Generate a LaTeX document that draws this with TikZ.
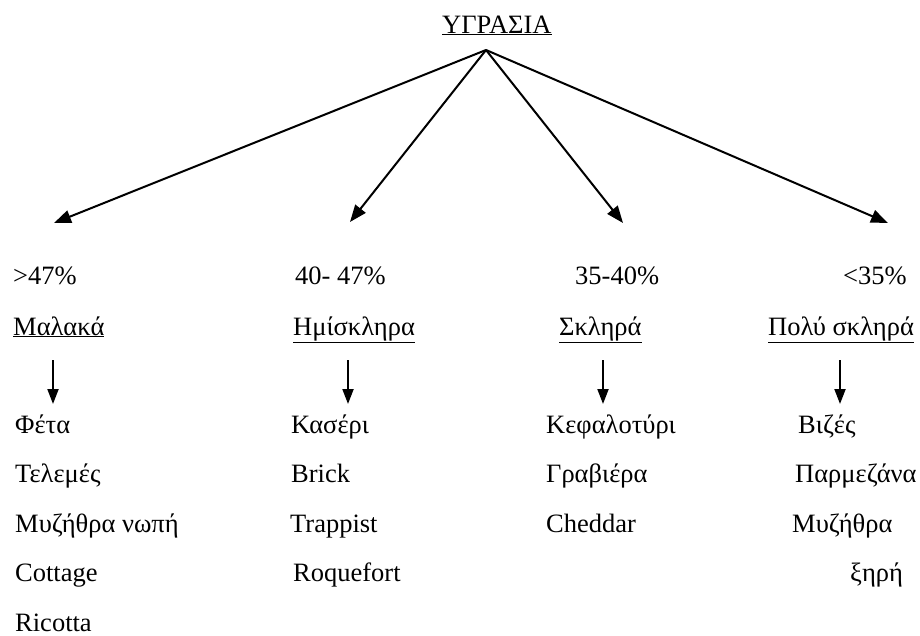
\documentclass[tikz,border=0pt]{standalone}
\usepackage{fontspec}
\setmainfont{Liberation Serif}
\usetikzlibrary{arrows.meta}
\newcommand{\ul}[1]{\underline{#1}}
\begin{document}
\begin{tikzpicture}[x=1pt,y=-1pt,
  txt/.style={anchor=base west,inner sep=0pt,font=\fontsize{26.5}{30}\selectfont},
  conn/.style={line width=2pt,-{Triangle[length=17pt,width=13pt]}},
  down/.style={line width=2pt,-{Triangle[length=15pt,width=11pt]}}]
\useasboundingbox (0,0) rectangle (920,635);
% title
\node[txt] (top) at (442,33) {\ul{ΥΓΡΑΣΙΑ}};
\coordinate (apex) at (486,50);
\coordinate (t1) at (54,223);
\coordinate (t2) at (350,222);
\coordinate (t3) at (623,223);
\coordinate (t4) at (888,223);
\draw[conn] (apex) -- (t1);
\draw[conn] (apex) -- (t2);
\draw[conn] (apex) -- (t3);
\draw[conn] (apex) -- (t4);
% percentages
\node[txt] (p1) at (13,284) {>47\%};
\node[txt] (p2) at (295,284) {40- 47\%};
\node[txt] (p3) at (575,284) {35-40\%};
\node[txt] (p4) at (843,284) {<35\%};
% categories
\node[txt] (c1) at (13,335) {\ul{Μαλακά}};
\node[txt] (c2) at (293,335) {\ul{Ημίσκληρα}};
\node[txt] (c3) at (559,335) {\ul{Σκληρά}};
\node[txt] (c4) at (768,335) {\ul{Πολύ σκληρά}};
% small arrows
\coordinate (s1) at (53,360); \coordinate (e1) at (53,404);
\coordinate (s2) at (348,360); \coordinate (e2) at (348,404);
\coordinate (s3) at (603,360); \coordinate (e3) at (603,404);
\coordinate (s4) at (840,360); \coordinate (e4) at (840,404);
\draw[down] (s1) -- (e1);
\draw[down] (s2) -- (e2);
\draw[down] (s3) -- (e3);
\draw[down] (s4) -- (e4);
% column 1
\node[txt] (a1) at (15,433) {Φέτα};
\node[txt] (a2) at (15,482.5) {Τελεμές};
\node[txt] (a3) at (15,532) {Μυζήθρα νωπή};
\node[txt] (a4) at (15,581.5) {Cottage};
\node[txt] (a5) at (15,631) {Ricotta};
% column 2
\node[txt] (b1) at (291,433) {Κασέρι};
\node[txt] (b2) at (291,482.5) {Brick};
\node[txt] (b3) at (290,532) {Trappist};
\node[txt] (b4) at (293,581.5) {Roquefort};
% column 3
\node[txt] (d1) at (546,433) {Κεφαλοτύρι};
\node[txt] (d2) at (546,482.5) {Γραβιέρα};
\node[txt] (d3) at (546,532) {Cheddar};
% column 4
\node[txt] (f1) at (798,433) {Βιζές};
\node[txt] (f2) at (795,482.5) {Παρμεζάνα};
\node[txt] (f3) at (792,532) {Μυζήθρα};
\node[txt] (f4) at (850,581.5) {ξηρή};
\end{tikzpicture}
\end{document}
